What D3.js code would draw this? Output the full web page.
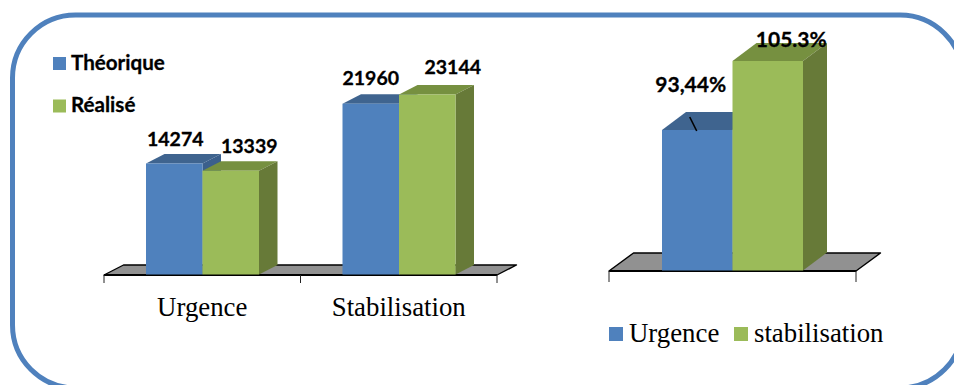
<!DOCTYPE html>
<html lang="fr">
<head>
<meta charset="utf-8">
<script src="https://cdn.jsdelivr.net/npm/d3@7/dist/d3.min.js"></script>
<style>
  html, body { margin: 0; padding: 0; background: #fff; }
  svg { display: block; }
  .bold { font-family: Lato, "Open Sans", sans-serif; font-weight: 700; fill: #000; stroke: #000; stroke-width: 0.3px; }
  .serif { font-family: "Liberation Serif", serif; fill: #000; }
</style>
</head>
<body>
<svg id="chart" width="954" height="385"></svg>
<script>
// Effectifs par phase
const categories = ["Urgence", "Stabilisation"];
const seriesNames = ["Théorique", "Réalisé"];
const theorique = [14274, 21960];
const realise = [13339, 23144];

// Taux de réalisation
const rateNames = ["Urgence", "stabilisation"];
const rateValues = [93.44, 105.3];
const rateLabels = ["93,44%", "105.3%"];

const palette = {
  blue:  { front: "#4f81bd", top: "#3f648f", side: "#3b5f8c" },
  green: { front: "#9bbb59", top: "#769040", side: "#677a38" }
};
const floorFill = "#919191";

const svg = d3.select("#chart");

// Cadre arrondi autour des deux graphiques
svg.append("rect")
  .attr("x", 12.5).attr("y", 15)
  .attr("width", 950.5).attr("height", 373)
  .attr("rx", 63).attr("ry", 63)
  .attr("fill", "none")
  .attr("stroke", "#4f81bd")
  .attr("stroke-width", 5);

// Sol en perspective, ligne d'axe et graduations
function drawFloor(g, x0, x1, y, dx, dy, ticks, tickLen) {
  const pts = [[x0, y], [x0 + dx, y - dy], [x1 + dx, y - dy], [x1, y]];
  g.append("polygon")
    .attr("points", pts.join(" "))
    .attr("fill", floorFill)
    .attr("stroke", "#000")
    .attr("stroke-width", 1.4)
    .attr("stroke-linejoin", "round");
  g.append("line")
    .attr("x1", x0).attr("x2", x1).attr("y1", y).attr("y2", y)
    .attr("stroke", "#000").attr("stroke-width", 2.2);
  g.selectAll("line.tick").data(ticks).join("line")
    .attr("class", "tick")
    .attr("x1", d => d).attr("x2", d => d)
    .attr("y1", y).attr("y2", y + tickLen)
    .attr("stroke", "#222").attr("stroke-width", 1);
}

// Barre 3D : face avant, dessus, côté droit
function drawBar(g, x, w, top, base, dx, dy, colors) {
  g.append("polygon")
    .attr("points", [[x, top], [x + dx, top - dy], [x + w + dx, top - dy], [x + w, top]].join(" "))
    .attr("fill", colors.top);
  g.append("polygon")
    .attr("points", [[x + w, top], [x + w + dx, top - dy], [x + w + dx, base - dy], [x + w, base]].join(" "))
    .attr("fill", colors.side);
  g.append("rect")
    .attr("x", x).attr("y", top)
    .attr("width", w).attr("height", base - top)
    .attr("fill", colors.front);
}

// Graphique de gauche : effectifs
{
  const g = svg.append("g");
  const base = 274.5;
  const x = d3.scaleBand().domain(categories).range([104, 497]);
  const y = d3.scaleLinear().domain([0, 23144]).range([base, 94.5]);
  const inner = d3.scaleBand().domain(seriesNames).range([42, 155]);
  const depth = [18.5, 9.5];

  drawFloor(g, 104, 497, 275, 19.5, 10,
    [x.range()[0], x(categories[1]), x.range()[1]], 8);

  const colors = [palette.blue, palette.green];
  const rows = [theorique, realise];
  const labelShift = [[1, -17], [18.5, -18], [0, -18.5], [25.5, -21]];
  rows.forEach((vals, s) => {
    vals.forEach((v, c) => {
      const bx = x(categories[c]) + inner(seriesNames[s]);
      drawBar(g, bx, inner.bandwidth(), y(v), base, depth[0], depth[1], colors[s]);
    });
  });
  rows.forEach((vals, s) => {
    vals.forEach((v, c) => {
      const bx = x(categories[c]) + inner(seriesNames[s]);
      const sh = labelShift[c * 2 + s];
      g.append("text").attr("class", "bold")
        .attr("x", bx + inner.bandwidth() / 2 + sh[0])
        .attr("y", y(v) + sh[1])
        .attr("text-anchor", "middle")
        .attr("font-size", 19.5)
        .text(v);
    });
  });

  g.selectAll("text.cat").data(categories).join("text")
    .attr("class", "cat serif")
    .attr("x", d => x(d) + x.bandwidth() / 2)
    .attr("y", 316)
    .attr("text-anchor", "middle")
    .attr("font-size", 26.8)
    .text(d => d);

  // Légende des séries
  const legendY = [57, 99.5];
  seriesNames.forEach((n, i) => {
    g.append("rect").attr("x", 53).attr("y", legendY[i])
      .attr("width", 13).attr("height", 13).attr("fill", colors[i].front);
    g.append("text").attr("class", "bold")
      .attr("x", 71).attr("y", legendY[i] + 12.5)
      .attr("font-size", 20.6)
      .text(n);
  });
}

// Graphique de droite : taux de réalisation
{
  const g = svg.append("g");
  const base = 270.5;
  const x = d3.scaleBand().domain(rateNames).range([662, 803]);
  const y = d3.scaleLinear().domain([93.44, 105.3]).range([130, 61]);
  const colors = [palette.blue, palette.green];
  const labelPos = [[-6.5, -38], [23.5, -14]];

  drawFloor(g, 609, 856, 271, 24.5, 18, [609, 856], 11);

  rateValues.forEach((v, i) => {
    drawBar(g, x(rateNames[i]), x.bandwidth(), y(v), base, 24, 18, colors[i]);
  });
  rateValues.forEach((v, i) => {
    g.append("text").attr("class", "bold")
      .attr("x", x(rateNames[i]) + x.bandwidth() / 2 + labelPos[i][0])
      .attr("y", y(v) + labelPos[i][1])
      .attr("text-anchor", "middle")
      .attr("font-size", 21)
      .text(rateLabels[i]);
  });

  // Trait de rappel de la première étiquette
  const leadX = x(rateNames[0]) + x.bandwidth() / 2;
  g.append("line")
    .attr("x1", leadX - 7.5).attr("y1", y(rateValues[0]) - 13)
    .attr("x2", leadX - 0.5).attr("y2", y(rateValues[0]) + 1)
    .attr("stroke", "#000").attr("stroke-width", 1.6);

  // Légende
  const legendX = [609, 734];
  rateNames.forEach((n, i) => {
    g.append("rect").attr("x", legendX[i]).attr("y", 327)
      .attr("width", 14).attr("height", 14).attr("fill", colors[i].front);
    g.append("text").attr("class", "serif")
      .attr("x", legendX[i] + 20).attr("y", 342)
      .attr("font-size", 26.8)
      .text(n);
  });
}
</script>
</body>
</html>
